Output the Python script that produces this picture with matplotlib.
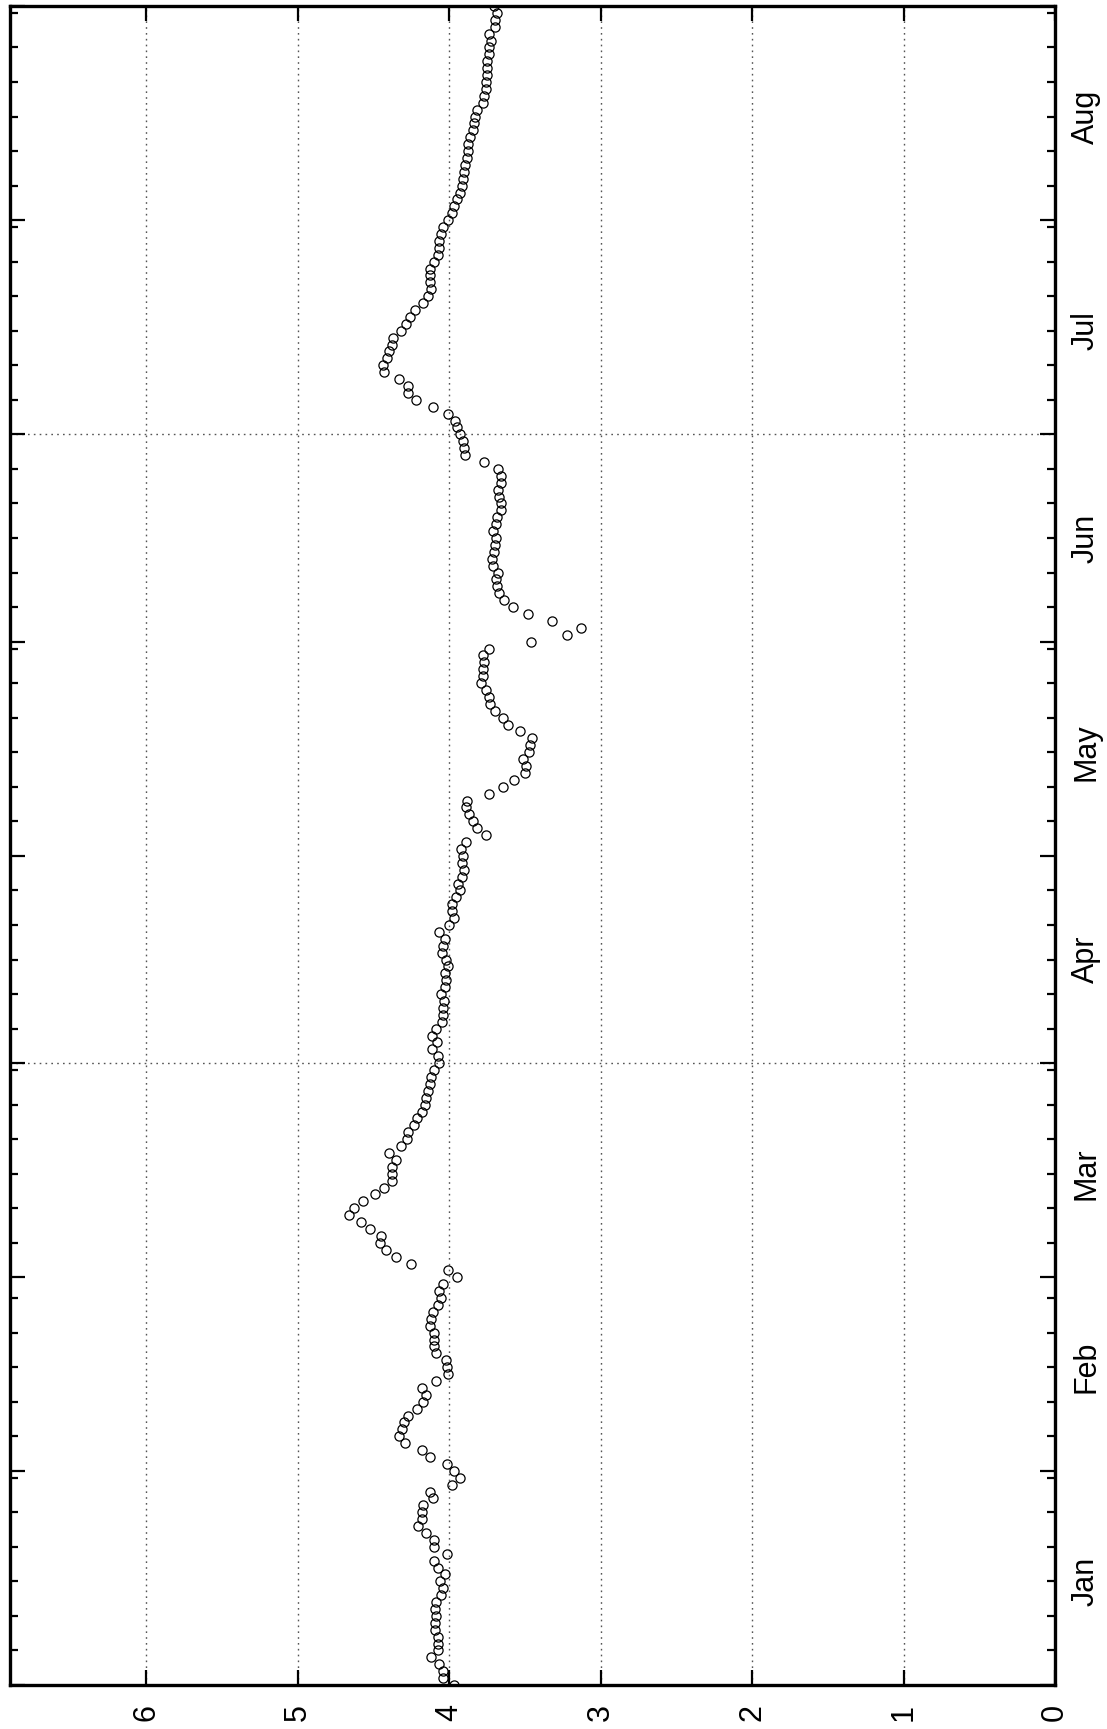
import matplotlib
matplotlib.use("Agg")
import matplotlib.pyplot as plt
import matplotlib.dates as mdates
import numpy as np
import pandas as pd

plt.rcParams['font.family'] = ['Liberation Sans', 'DejaVu Sans']

# daily values, one list per month (non-leap year)
jan = [3.97, 4.04, 4.04, 4.065, 4.12, 4.076, 4.076, 4.076, 4.094, 4.094, 4.087,
       4.094, 4.087, 4.056, 4.038, 4.058, 4.027, 4.076, 4.10, 4.016, 4.098, 4.098,
       4.153, 4.208, 4.18, 4.18, 4.17, 4.11, 4.13, 3.98, 3.93]
feb = [3.966, 4.016, 4.13, 4.18, 4.29, 4.33, 4.31, 4.30, 4.27, 4.21, 4.17, 4.15,
       4.18, 4.09, 4.005, 4.014, 4.023, 4.087, 4.098, 4.10, 4.098, 4.13, 4.12,
       4.11, 4.076, 4.054, 4.07, 4.04]
mar = [3.95, 4.005, 4.25, 4.35, 4.42, 4.46, 4.45, 4.52, 4.58, 4.66, 4.63, 4.57,
       4.49, 4.43, 4.38, 4.38, 4.38, 4.35, 4.40, 4.32, 4.28, 4.27, 4.23, 4.21,
       4.18, 4.16, 4.15, 4.14, 4.13, 4.12, 4.10]
apr = [4.065, 4.076, 4.115, 4.08, 4.115, 4.087, 4.05, 4.04, 4.04, 4.034, 4.054,
       4.03, 4.02, 4.025, 4.007, 4.02, 4.047, 4.04, 4.03, 4.07, 4.00, 3.97, 3.98,
       3.98, 3.955, 3.93, 3.94, 3.915, 3.905, 3.915]
may = [3.91, 3.92, 3.89, 3.76, 3.815, 3.845, 3.87, 3.89, 3.88, 3.74, 3.646, 3.57,
       3.50, 3.49, 3.51, 3.47, 3.465, 3.455, 3.53, 3.61, 3.646, 3.70, 3.73, 3.74,
       3.76, 3.79, 3.775, 3.775, 3.77, 3.78, 3.74]
jun = [3.46, 3.22, 3.13, 3.32, 3.48, 3.58, 3.635, 3.67, 3.685, 3.69, 3.675, 3.71,
       3.72, 3.705, 3.70, 3.69, 3.71, 3.69, 3.685, 3.66, 3.66, 3.67, 3.675, 3.66,
       3.66, 3.68, 3.77, 3.895, 3.90, 3.91]
jul = [3.93, 3.95, 3.96, 4.01, 4.11, 4.22, 4.27, 4.27, 4.33, 4.43, 4.435, 4.41,
       4.395, 4.38, 4.37, 4.32, 4.285, 4.256, 4.225, 4.175, 4.14, 4.12, 4.124,
       4.125, 4.13, 4.10, 4.076, 4.07, 4.065, 4.054, 4.04]
aug = [4.01, 3.98, 3.97, 3.95, 3.93, 3.917, 3.906, 3.90, 3.893, 3.884, 3.877,
       3.873, 3.862, 3.844, 3.838, 3.83, 3.818, 3.78, 3.767, 3.756, 3.756, 3.752,
       3.752, 3.752, 3.74, 3.734, 3.723, 3.734, 3.70, 3.695, 3.686]
sep = [3.706]

month_labels = ['Jan', 'Feb', 'Mar', 'Apr', 'May', 'Jun', 'Jul', 'Aug']
value_ticks = [0, 1, 2, 3, 4, 5, 6]

values = np.array(jan + feb + mar + apr + may + jun + jul + aug + sep)
dates = pd.date_range('2001-01-01', periods=len(values), freq='D')

fig = plt.figure(figsize=(11.07, 17.29), dpi=100)
ax = fig.add_axes([10 / 1107, 44 / 1729, 1045 / 1107, 1679 / 1729])

# chart is drawn rotated: value axis runs right-to-left, time runs upward
ax.plot(values, dates, 'o', mfc='none', mec='black', ms=6.6, mew=0.9, zorder=3)

ax.set_xlim(6.9, 0)
ax.set_ylim(pd.Timestamp('2001-01-01'), pd.Timestamp('2001-09-01'))

grid_kw = dict(color='#555555', lw=1.0, ls=(0, (1.2, 3)), zorder=1)
for v in value_ticks[1:]:
    ax.axvline(v, **grid_kw)
for d in ['2001-04-01', '2001-07-01']:
    ax.axhline(pd.Timestamp(d), **grid_kw)

ax.set_xticks(value_ticks)
ax.yaxis.set_major_locator(mdates.MonthLocator())
ax.yaxis.set_minor_locator(mdates.DayLocator(bymonthday=[6, 11, 16, 21, 26, 31]))
ax.tick_params(axis='both', which='major', direction='in', length=11, width=1.6,
               top=True, right=True, left=True, bottom=True,
               labelbottom=False, labelleft=False, labelright=False, labeltop=False)
ax.tick_params(axis='y', which='minor', direction='in', length=5.5, width=1.6,
               left=True, right=True)

for sp in ax.spines.values():
    sp.set_linewidth(2.4)

for v in value_ticks:
    ax.text(v, -0.0165, str(v), transform=ax.get_xaxis_transform(),
            rotation=90, ha='center', va='center', fontsize=22)

for i, m in enumerate(month_labels):
    mid = pd.Timestamp(2001, i + 1, 16)
    ax.text(1.0297, mid, m, transform=ax.get_yaxis_transform(),
            rotation=90, ha='center', va='center', fontsize=22)

fig.savefig('out.png', dpi=100)
